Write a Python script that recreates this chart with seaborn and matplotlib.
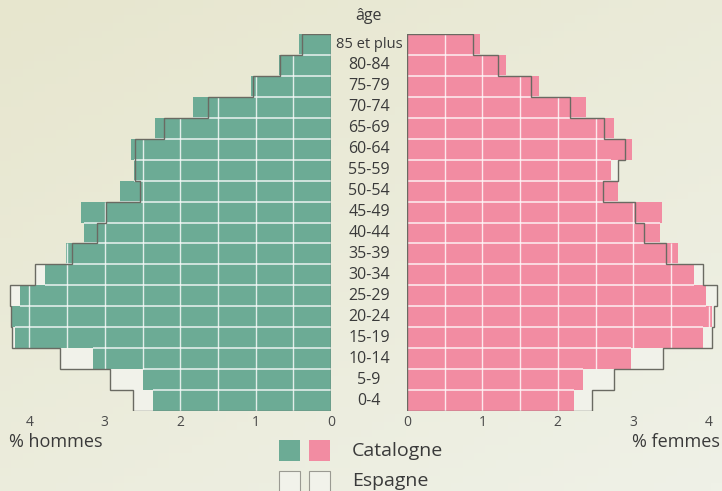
import numpy as np
import pandas as pd
import matplotlib
matplotlib.use("Agg")
import matplotlib.pyplot as plt
import matplotlib.transforms as mtransforms
from matplotlib.patches import Rectangle
import seaborn as sns

# --- data (% of total population) ---
ages = ["85 et plus", "80-84", "75-79", "70-74", "65-69", "60-64", "55-59", "50-54", "45-49",
        "40-44", "35-39", "30-34", "25-29", "20-24", "15-19", "10-14", "5-9", "0-4"]
hommes_catalogne = [0.42, 0.69, 1.06, 1.83, 2.33, 2.65, 2.61, 2.80, 3.31,
                    3.28, 3.52, 3.79, 4.13, 4.25, 4.19, 3.16, 2.49, 2.36]
hommes_espagne = [0.39, 0.67, 1.03, 1.63, 2.21, 2.60, 2.60, 2.53, 2.98,
                  3.10, 3.43, 3.93, 4.26, 4.24, 4.23, 3.59, 2.93, 2.62]
femmes_catalogne = [0.97, 1.31, 1.75, 2.38, 2.74, 2.99, 2.71, 2.80, 3.38,
                    3.35, 3.60, 3.80, 3.96, 4.04, 3.93, 2.97, 2.33, 2.21]
femmes_espagne = [0.87, 1.21, 1.65, 2.16, 2.61, 2.89, 2.80, 2.60, 3.02,
                  3.14, 3.44, 3.92, 4.11, 4.07, 4.05, 3.39, 2.74, 2.45]
ticks = [0, 1, 2, 3, 4]

GREEN = "#6cab95"
PINK = "#f28ca2"
LIGHT = "#f1f2ea"
OUTLINE = "#6a6a62"
TEXT = "#3a3a3a"
BG = "#eae9d3"

df = pd.DataFrame({"age": ages,
                   "h_cat": hommes_catalogne, "h_esp": hommes_espagne,
                   "f_cat": femmes_catalogne, "f_esp": femmes_espagne})

W, H = 722, 491
fig = plt.figure(figsize=(W / 100, H / 100), dpi=100)
fig.patch.set_facecolor(BG)

# soft background gradient like the scanned page
bg_ax = fig.add_axes([0, 0, 1, 1], zorder=-10)
gx, gy = np.meshgrid(np.linspace(0, 1, 64), np.linspace(0, 1, 64))
t = (gx * 0.6 + gy * 0.8) / 1.4
c0 = np.array([231, 230, 206]) / 255
c1 = np.array([239, 241, 231]) / 255
bg_ax.imshow(c0 + (c1 - c0) * t[..., None], aspect="auto", extent=[0, 1, 0, 1])
bg_ax.axis("off")

PX = 75.4  # pixels per percentage point
row_top, row_bot = 34, 411
ax_b = (H - row_bot) / H
ax_h = (row_bot - row_top) / H
ax_l = fig.add_axes([0, ax_b, 331 / W, ax_h])
ax_r = fig.add_axes([407 / W, ax_b, (W - 407) / W, ax_h])
edges = np.arange(len(ages) + 1) - 0.5


def draw_side(ax, cat_col, esp_col, color):
    cat = df[cat_col].to_numpy()
    esp = df[esp_col].to_numpy()
    # Espagne fill (shows where Espagne exceeds Catalogne)
    sns.barplot(data=df, x=esp_col, y="age", order=ages, orient="h", ax=ax,
                color=LIGHT, saturation=1, width=1, linewidth=0, zorder=1)
    sns.barplot(data=df, x=cat_col, y="age", order=ages, orient="h", ax=ax,
                color=color, saturation=1, width=1, linewidth=0, zorder=2)
    # white grid inside the bars
    for i, v in enumerate(cat):
        xs = np.arange(0.5, v, 0.5)
        ax.vlines(xs, i - 0.5, i + 0.5, color="white", lw=1.0, alpha=0.8, zorder=3)
    for i in range(len(cat) - 1):
        ax.hlines(i + 0.5, 0, min(cat[i], cat[i + 1]), color="white", lw=1.1,
                  alpha=0.85, zorder=3)
    # Espagne outline
    ax.stairs(esp, edges, orientation="horizontal", baseline=0, color=OUTLINE,
              lw=1.0, zorder=4)
    ax.axvline(0, color=OUTLINE, lw=1.0, zorder=4)
    ax.set_ylim(len(ages) - 0.5, -0.5)
    ax.set_xticks(ticks)
    ax.set_xticklabels([str(v) for v in ticks])
    ax.tick_params(axis="x", length=0, pad=3, labelsize=10, labelcolor="#4a4a4a")
    ax.set_yticks([])
    ax.set_xlabel("")
    ax.set_ylabel("")
    for s in ax.spines.values():
        s.set_visible(False)
    ax.set_facecolor("none")


plt.rcParams["font.family"] = ["Open Sans", "DejaVu Sans"]
draw_side(ax_l, "h_cat", "h_esp", GREEN)
draw_side(ax_r, "f_cat", "f_esp", PINK)
ax_l.set_xlim(331 / PX, 0)
ax_r.set_xlim(0, (W - 407) / PX)
for ax in (ax_l, ax_r):
    for lab in ax.get_xticklabels():
        lab.set_fontfamily(["Open Sans", "DejaVu Sans"])

# age labels in the middle column
trans = mtransforms.blended_transform_factory(fig.transFigure, ax_r.transData)
for i, a in enumerate(ages):
    fig.text(369 / W, i, a, transform=trans, ha="center", va="center",
             fontsize=10.5 if i == 0 else 11.5, color=TEXT, family="Open Sans")
fig.text(369 / W, 1 - 16 / H, "âge", ha="center", va="center", fontsize=11.5,
         color=TEXT, family="Open Sans")

fig.text(9 / W, 1 - 442 / H, "% hommes", ha="left", va="center", fontsize=13,
         color=TEXT, family="Open Sans")
fig.text(720 / W, 1 - 442 / H, "% femmes", ha="right", va="center", fontsize=13,
         color=TEXT, family="Open Sans")

# legend
def box(x0, y_top, face, edge):
    fig.add_artist(Rectangle((x0 / W, 1 - (y_top + 21) / H), 21 / W, 21 / H,
                             transform=fig.transFigure, facecolor=face,
                             edgecolor=edge, lw=0.8))

box(279, 440, GREEN, "none")
box(309, 440, PINK, "none")
box(279, 471, LIGHT, "#9a9a92")
box(309, 471, LIGHT, "#9a9a92")
fig.text(352 / W, 1 - 451 / H, "Catalogne", ha="left", va="center", fontsize=14,
         color=TEXT, family="Open Sans")
fig.text(352 / W, 1 - 481 / H, "Espagne", ha="left", va="center", fontsize=14,
         color=TEXT, family="Open Sans")

fig.savefig("out.png", dpi=100, facecolor=fig.get_facecolor())
